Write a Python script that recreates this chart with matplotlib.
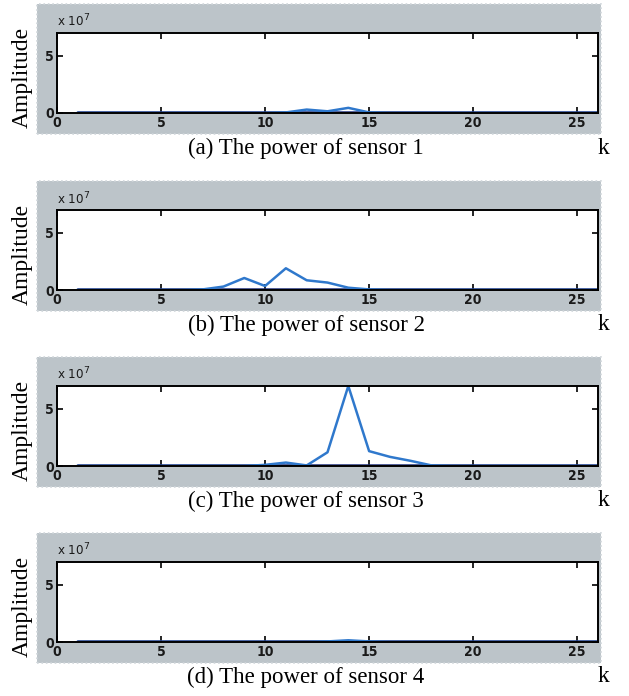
import numpy as np
import matplotlib
matplotlib.use("Agg")
import matplotlib.pyplot as plt
from matplotlib.patches import Rectangle

# data: power per sensor over k = 1..26, in units of 10^7
k = np.arange(1, 27)
sensor1 = [0, 0, 0, 0, 0, 0, 0, 0, 0, 0, 0.05, 0.3, 0.15, 0.45, 0.05,
           0, 0, 0, 0, 0, 0, 0, 0, 0, 0, 0]
sensor2 = [0, 0, 0, 0, 0, 0, 0.05, 0.3, 1.05, 0.35, 1.9, 0.85, 0.65, 0.2, 0.05,
           0, 0, 0, 0, 0, 0, 0, 0, 0, 0, 0]
sensor3 = [0, 0, 0, 0, 0, 0, 0, 0, 0, 0.1, 0.3, 0.05, 1.2, 7.0, 1.3,
           0.8, 0.45, 0.05, 0, 0, 0, 0, 0, 0, 0, 0]
sensor4 = [0, 0, 0, 0, 0, 0, 0, 0, 0, 0, 0, 0, 0.05, 0.15, 0.05,
           0, 0, 0, 0, 0, 0, 0, 0, 0, 0, 0]
series = [sensor1, sensor2, sensor3, sensor4]
captions = ["(a) The power of sensor 1", "(b) The power of sensor 2",
            "(c) The power of sensor 3", "(d) The power of sensor 4"]
xticks = [0, 5, 10, 15, 20, 25]
yticks = [0, 5]

W, H = 629, 696
fig = plt.figure(figsize=(W / 100, H / 100), dpi=100)

tick_font = ["DejaVu Sans", "Liberation Sans"]
serif = ["Liberation Serif", "DejaVu Serif"]
gray = "#bcc4c9"

tops = [33, 210, 386, 562]
ax_h = 80
left, right = 57, 598

for top, data, cap in zip(tops, series, captions):
    # gray matlab-like figure background behind each panel
    g_top, g_bot = top - 29, top + ax_h + 21
    fig.patches.append(Rectangle((37 / W, 1 - g_bot / H), (601 - 37) / W,
                                 (g_bot - g_top) / H, transform=fig.transFigure,
                                 facecolor=gray, edgecolor="#d0d6da",
                                 linestyle=":", linewidth=1.2, zorder=-5))
    ax = fig.add_axes([left / W, 1 - (top + ax_h) / H, (right - left) / W, ax_h / H])
    ax.set_zorder(2)
    # near-zero floor drawn darker, like the reference
    ax.plot([k[0], k[-1]], [0.08, 0.08], color="#1f2f78", linewidth=1.8)
    ax.plot(k, data, color="#2f78cc", linewidth=1.8)
    ax.set_xlim(0, 26)
    ax.set_ylim(0, 7)
    ax.set_xticks(xticks)
    ax.set_yticks(yticks)
    ax.tick_params(direction="in", top=True, right=True, length=4, width=1.2,
                   pad=2, labelsize=10)
    for lab in ax.get_xticklabels() + ax.get_yticklabels():
        lab.set_family(tick_font)
        lab.set_stretch("condensed")
        lab.set_fontweight("bold")
        lab.set_color("#1a1a1a")
    for sp in ax.spines.values():
        sp.set_linewidth(1.4)
    ax.text(0.0, 1.04, r"x 10$^7$", transform=ax.transAxes, fontsize=9.5,
            family=tick_font, stretch="condensed", color="#1a1a1a",
            va="bottom")
    fig.text(22 / W, 1 - (top + 44) / H, "Amplitude", family=serif,
             fontsize=17, rotation=90, ha="center", va="center")
    fig.text(306 / W, 1 - (g_bot + 14) / H, cap, family=serif,
             fontsize=16.5, ha="center", va="center")
    fig.text(603 / W, 1 - (g_bot + 14) / H, "k", family=serif,
             fontsize=17, ha="center", va="center")

fig.savefig("out.png", dpi=100)
